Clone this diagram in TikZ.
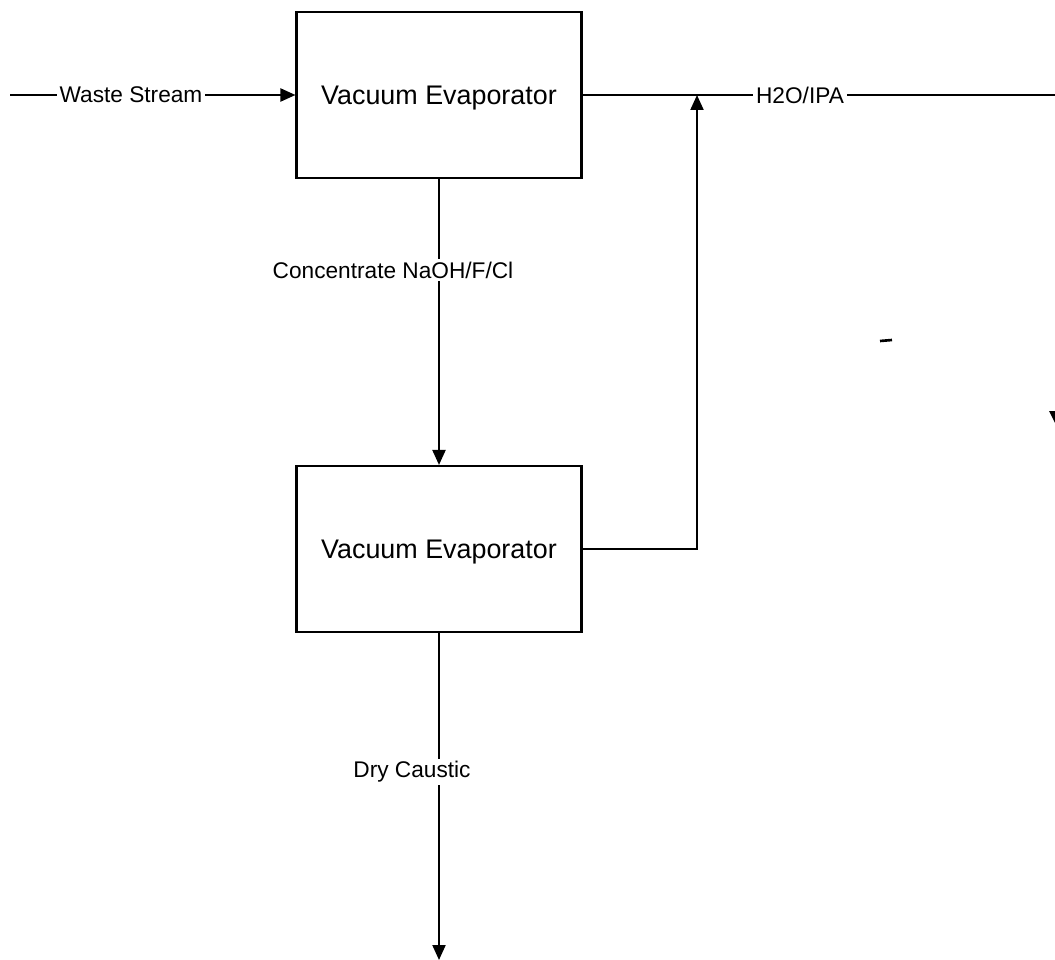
\documentclass[tikz,border=0pt]{standalone}
\usepackage{fontspec}
\setmainfont{Liberation Sans}
\usetikzlibrary{arrows.meta}

\begin{document}
\begin{tikzpicture}[x=0.02cm,y=-0.02cm,
        unit/.style={draw, line width=1.2pt, minimum width=5.7cm, minimum height=3.32cm, text depth=0pt, font=\fontsize{15.3}{17}\selectfont},
        flow/.style={line width=1.2pt, -{Triangle[length=3mm,width=2.6mm]}},
        pipe/.style={line width=1.2pt},
        tag/.style={fill=white, inner sep=1.5pt, font=\fontsize{12.9}{15}\selectfont}]
        \useasboundingbox (0,0) rectangle (1055,960);
        \node[unit] (evapA) at (439,95) {Vacuum Evaporator};
        \node[unit] (evapB) at (439,549) {Vacuum Evaporator};
        \coordinate (feed) at (10,95); \coordinate (vent) at (1055,95);
        \coordinate (join) at (697,95); \coordinate (drain) at (439,960);
        \draw[flow] (feed) -- (evapA.west);
        \draw[pipe] (evapA.east) -- (vent);
        \draw[flow] (evapA.south) -- (evapB.north);
        \draw[flow] (evapB.east) -| (join);
        \draw[flow] (evapB.south) -- (drain);
        \node[tag] (wasteLbl) at (131,95) {Waste Stream};
        \node[tag] (ventLbl) at (800,95) {H2O/IPA};
        \node[tag] (concLbl) at (393,270) {Concentrate NaOH/F/Cl};
        \node[tag] (dryLbl) at (412,772) {Dry Caustic};
        % stray marks of the original
        \draw[line width=1.5pt] (880,341) -- (892,340);
        \clip (0,0) rectangle (1055,960);
        \fill (1049,411) -- (1065,411) -- (1057,427) -- cycle;
    \end{tikzpicture}
\end{document}
